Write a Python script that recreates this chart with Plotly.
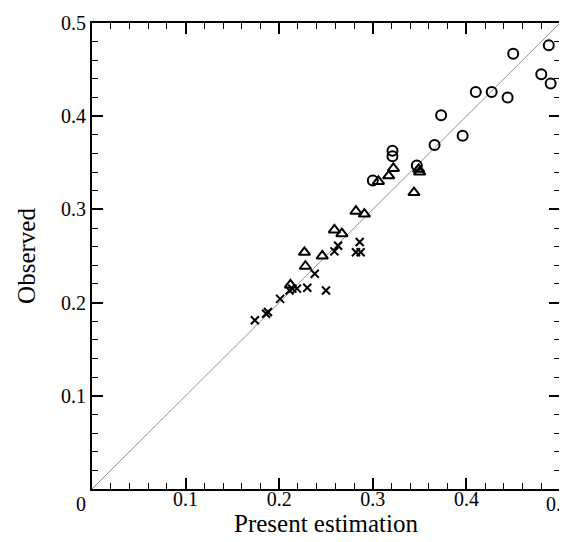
import plotly.graph_objects as go

# Data
cross_x = [0.174, 0.186, 0.188, 0.201, 0.211, 0.214, 0.219, 0.230, 0.238, 0.250, 0.259, 0.263, 0.282, 0.287, 0.286]
cross_y = [0.181, 0.188, 0.190, 0.204, 0.213, 0.215, 0.215, 0.216, 0.231, 0.213, 0.255, 0.261, 0.254, 0.254, 0.265]

tri_x = [0.212, 0.227, 0.228, 0.246, 0.259, 0.267, 0.282, 0.291, 0.306, 0.317, 0.322, 0.349, 0.350, 0.344]
tri_y = [0.219, 0.254, 0.239, 0.250, 0.278, 0.274, 0.298, 0.295, 0.330, 0.336, 0.344, 0.343, 0.340, 0.318]

circ_x = [0.300, 0.321, 0.321, 0.347, 0.366, 0.373, 0.396, 0.410, 0.427, 0.444, 0.450, 0.480, 0.488, 0.490]
circ_y = [0.331, 0.363, 0.357, 0.347, 0.369, 0.401, 0.379, 0.426, 0.426, 0.420, 0.467, 0.445, 0.476, 0.435]

line_x = [0, 0.5]
line_y = [0, 0.5]

x_ticks = [0, 0.1, 0.2, 0.3, 0.4, 0.5]
x_ticktext = ["", "0.1", "0.2", "0.3", "0.4", ""]
y_ticks = [0, 0.1, 0.2, 0.3, 0.4, 0.5]
y_ticktext = ["", "0.1", "0.2", "0.3", "0.4", "0.5"]

FONT = "Liberation Serif, Times New Roman, serif"

fig = go.Figure()
fig.add_trace(go.Scatter(x=line_x, y=line_y, mode="lines",
                         line=dict(color="#777777", width=0.8),
                         showlegend=False, hoverinfo="skip"))
fig.add_trace(go.Scatter(x=cross_x, y=cross_y, mode="markers",
                         marker=dict(symbol="x-thin-open", size=8, color="black",
                                     line=dict(width=2, color="black")),
                         showlegend=False))
fig.add_trace(go.Scatter(x=tri_x, y=tri_y, mode="markers",
                         marker=dict(symbol="triangle-up-open", size=10, color="black",
                                     line=dict(width=2, color="black")),
                         showlegend=False))
fig.add_trace(go.Scatter(x=circ_x, y=circ_y, mode="markers",
                         marker=dict(symbol="circle-open", size=10, color="black",
                                     line=dict(width=2, color="black")),
                         showlegend=False))

axis_common = dict(
    range=[0, 0.5], showgrid=False, zeroline=False, automargin=False,
    showline=True, linecolor="black", linewidth=2, mirror="allticks",
    ticks="inside", ticklen=11, tickwidth=1.5, tickcolor="black",
    tickmode="array", ticklabeloverflow="allow",
    tickfont=dict(family=FONT, size=20, color="black"),
    minor=dict(dtick=0.02, ticks="inside", ticklen=6, tickwidth=1, tickcolor="black", showgrid=False),
)

fig.update_layout(
    width=567, height=542,
    margin=dict(l=84, r=15, t=15, b=61),
    paper_bgcolor="white", plot_bgcolor="rgba(0,0,0,0)",
    font=dict(family=FONT, color="black"),
    xaxis=dict(**axis_common, tickvals=x_ticks, ticktext=x_ticktext, ticklabelstandoff=-9,
               title=dict(text="Present estimation", font=dict(family=FONT, size=25), standoff=3)),
    yaxis=dict(**axis_common, tickvals=y_ticks, ticktext=y_ticktext,
               title=dict(text="Observed", font=dict(family=FONT, size=25), standoff=18)),
    annotations=[
        dict(x=0, y=0, xref="x", yref="y", text="0", showarrow=False,
             xshift=-11, yshift=-15, font=dict(family=FONT, size=20, color="black")),
        dict(x=0.5, y=0, xref="x", yref="y", text="0.5", showarrow=False,
             xshift=-2, yshift=-15, font=dict(family=FONT, size=20, color="black")),
    ],
)

fig.write_html("out.html")
